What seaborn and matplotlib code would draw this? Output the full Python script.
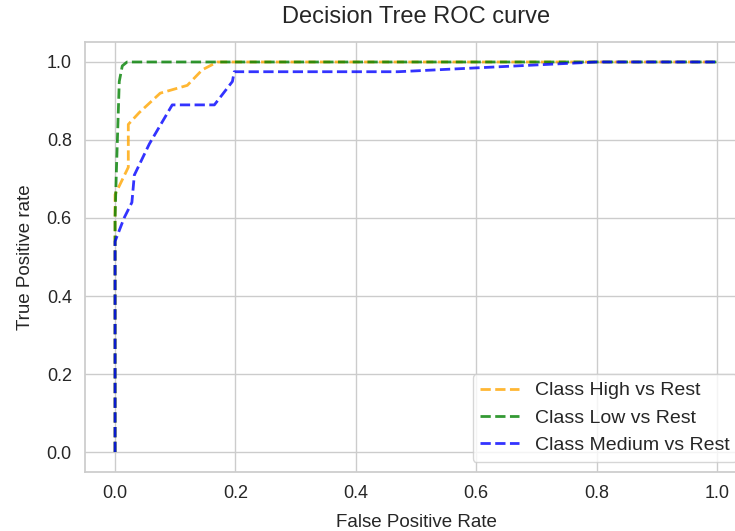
import numpy as np
import pandas as pd
import matplotlib
matplotlib.use("Agg")
import matplotlib.pyplot as plt
import seaborn as sns

# ===============================
# ROC points
# ===============================
fpr_high = [0.0, 0.0, 0.0, 0.022, 0.022, 0.04, 0.075, 0.12, 0.145, 0.17, 1.0]
tpr_high = [0.0, 0.57, 0.66, 0.73, 0.84, 0.87, 0.92, 0.94, 0.98, 1.0, 1.0]

fpr_low = [0.0, 0.0, 0.002, 0.007, 0.012, 0.02, 1.0]
tpr_low = [0.0, 0.6, 0.71, 0.95, 0.99, 1.0, 1.0]

fpr_med = [0.0, 0.0, 0.015, 0.028, 0.032, 0.057, 0.095, 0.165, 0.195, 0.198, 0.47, 0.8, 1.0]
tpr_med = [0.0, 0.54, 0.6, 0.64, 0.71, 0.79, 0.89, 0.89, 0.95, 0.975, 0.975, 1.0, 1.0]

labels = ["Class High vs Rest", "Class Low vs Rest", "Class Medium vs Rest"]
colors = ["orange", "green", "blue"]

sns.set_theme(style="whitegrid")
plt.rcParams['font.family'] = ['Liberation Sans', 'DejaVu Sans']

fig = plt.figure(figsize=(7.35, 5.31), dpi=100)
# axes runs a little past the right edge, as in the cropped reference
ax = fig.add_axes([0.1156, 0.112, 0.9007, 0.808])

curves = [(fpr_high, tpr_high), (fpr_low, tpr_low), (fpr_med, tpr_med)]
for (fpr, tpr), lab, col in zip(curves, labels, colors):
    df = pd.DataFrame({"fpr": fpr, "tpr": tpr})
    sns.lineplot(data=df, x="fpr", y="tpr", sort=False, estimator=None,
                 color=col, alpha=0.8, linestyle="--", linewidth=2,
                 label=lab, ax=ax)

ax.set_xlim(-0.05, 1.05)
ax.set_ylim(-0.05, 1.05)
ax.set_xticks([0.0, 0.2, 0.4, 0.6, 0.8, 1.0])
ax.set_yticks([0.0, 0.2, 0.4, 0.6, 0.8, 1.0])
ax.tick_params(labelsize=13)
ax.set_title("Decision Tree ROC curve", fontsize=17, pad=14)
ax.set_xlabel("False Positive Rate", fontsize=13.5, labelpad=9)
ax.set_ylabel("True Positive rate", fontsize=13.5, labelpad=9)
ax.legend(loc="lower right", fontsize=14)

fig.savefig("out.png", dpi=100)
